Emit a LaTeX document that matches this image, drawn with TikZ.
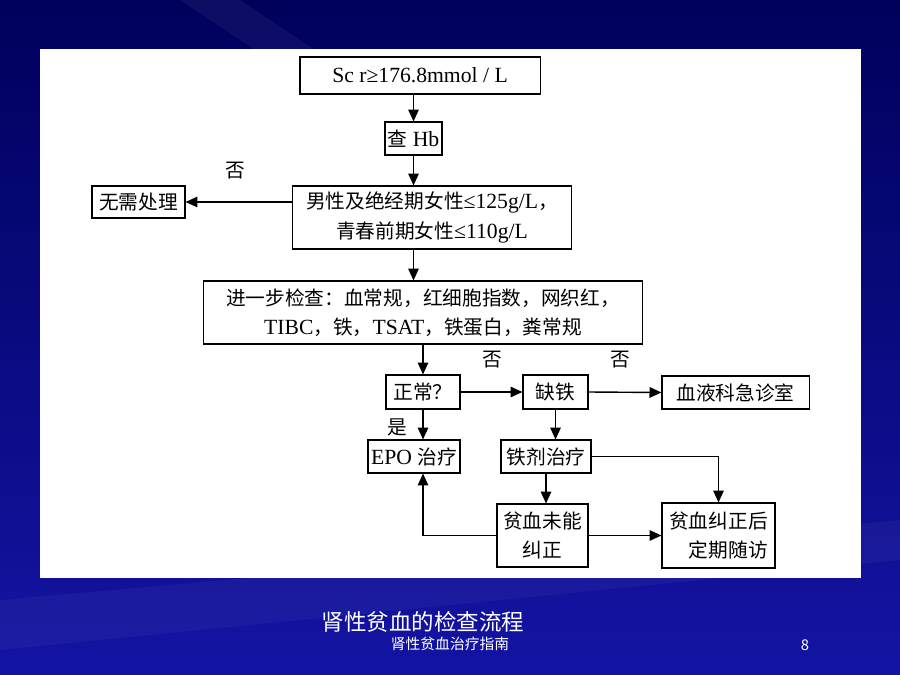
\documentclass[tikz,border=0pt]{standalone}
\usepackage{fontspec}
\setmainfont{Liberation Serif}[Scale=1.1]
\newfontfamily\zhfont{Noto Sans CJK SC}
\usetikzlibrary{arrows.meta}
\usetikzlibrary{calc,positioning}
\newcommand\zh[1]{{\zhfont #1}}
\definecolor{slidetop}{HTML}{00005C}
\definecolor{slidebot}{HTML}{1414A4}

\begin{document}
\begin{tikzpicture}[x=0.025cm,y=-0.025cm,>={Triangle[length=8.5pt,width=7.5pt]},
        box/.style={draw,line width=0.75pt,inner sep=0pt,align=center,font=\fontsize{14}{21}\selectfont},
        arr/.style={->,line width=1pt},
        lbl/.style={font=\zhfont\fontsize{14}{16}\selectfont}]
        \useasboundingbox (0,0) rectangle (900,675);
        % slide background
        \fill[top color=slidetop,bottom color=slidebot] (0,0) rectangle (900,675);
        \fill[white,opacity=0.05] (180,0) -- (240,0) -- (330,60) -- (270,60) -- cycle;
        \fill[white,opacity=0.04] (0,600) -- (900,520) -- (900,560) -- (0,650) -- cycle;
        \fill[white] (40,49) rectangle (861,578);

        \node[box,minimum width=6cm,minimum height=0.925cm] (scr) at (420,75.5) {Sc r≥176.8mmol / L};
        \node[box,minimum width=1.425cm,minimum height=0.825cm] (hb) at (413.5,138.5) {\zh{查} Hb};
        \node[box,minimum width=6.95cm,minimum height=1.575cm] (cond) at (432,217.5)
            {\zh{男性及绝经期女性}≤125g/L\zh{，}\\\zh{青春前期女性}≤110g/L};
        \node[box,minimum width=2.325cm,minimum height=0.8cm] (none) at (138.5,202) {\zh{无需处理}};
        \node[box,minimum width=10.95cm,minimum height=1.575cm] (exam) at (423,312.5)
            {\zh{进一步检查：血常规，红细胞指数，网织红，}\\TIBC\zh{，铁，}TSAT\zh{，铁蛋白，粪常规}};
        \node[box,minimum width=1.85cm,minimum height=0.85cm] (normal) at (423,392) {\zh{正常？}};
        \node[box,minimum width=1.625cm,minimum height=0.85cm] (iron) at (555.5,392) {\zh{缺铁}};
        \node[box,minimum width=3.675cm,minimum height=0.825cm] (hemer) at (735.5,392.5) {\zh{血液科急诊室}};
        \node[box,minimum width=2.3cm,minimum height=0.825cm] (epo) at (414,456.5) {EPO \zh{治疗}};
        \node[box,minimum width=2.25cm,minimum height=0.825cm] (fe) at (546,456.5) {\zh{铁剂治疗}};
        \node[box,minimum width=2.275cm,minimum height=1.575cm] (fail) at (542.5,535.5) {\zh{贫血未能}\\\zh{纠正}};
        \node[box,align=right,minimum width=2.825cm,minimum height=1.625cm] (ok) at (718.5,535.5) {\zh{贫血纠正后}\\\zh{定期随访}};

        \node[lbl] (no1) at (235,171) {否};
        \node[lbl] (no2) at (492,360) {否};
        \node[lbl] (no3) at (620,360) {否};
        \node[lbl] (yes) at (397,427) {是};

        \draw[arr] (hb.north |- scr.south) -- (hb.north);
        \draw[arr] (hb.south) -- (hb.south |- cond.north);
        \draw[arr] (cond.west |- none.east) -- (none.east);
        \draw[arr] (hb.south |- cond.south) -- (hb.south |- exam.north);
        \draw[arr] (normal.north |- exam.south) -- (normal.north);
        \draw[arr] (normal.east) -- (iron.west);
        \draw[arr] (iron.east) -- (hemer.west);
        \draw[arr] (normal.south) -- (normal.south |- epo.north);
        \draw[arr] (iron.south) -- (iron.south |- fe.north);
        \draw[arr] (fe.south) -- (fe.south |- fail.north);
        \draw[arr] (fe.east) -| (ok.north);
        \draw[arr] (fail.east) -- (ok.west);
        \draw[arr] (fail.west) -| (normal.south |- epo.south);

        \node[text=white,font=\zhfont\fontsize{16}{18}\selectfont] (title) at (423,622) {肾性贫血的检查流程};
        \node[text=white,font=\zhfont\fontsize{10.5}{12}\selectfont] (sub) at (450,644) {肾性贫血治疗指南};
        \node[text=white,font=\zhfont\fontsize{10.5}{12}\selectfont] (page) at (805,645) {8};
\end{tikzpicture}
\end{document}
